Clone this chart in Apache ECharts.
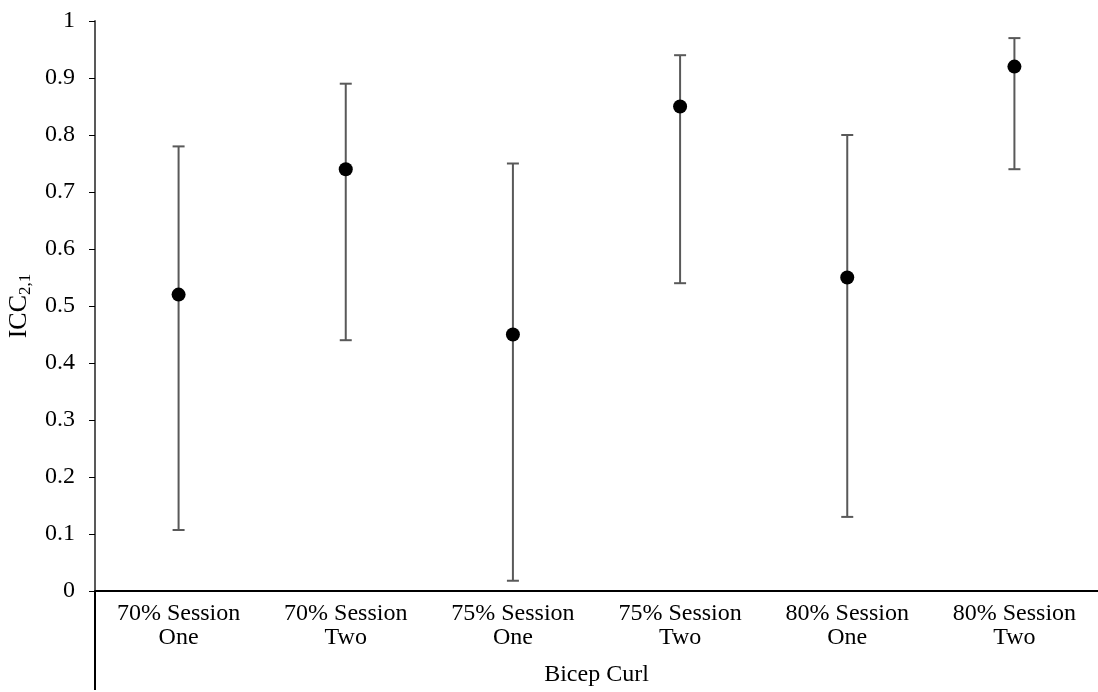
<!DOCTYPE html>
<html><head><meta charset="utf-8">
<script src="https://cdn.jsdelivr.net/npm/echarts@6/dist/echarts.min.js"></script>
<style>html,body{margin:0;padding:0;background:#fff}#c{width:1098px;height:692px}</style>
</head><body><div id="c"></div>
<script>
var categories = ['70% Session\nOne','70% Session\nTwo','75% Session\nOne','75% Session\nTwo','80% Session\nOne','80% Session\nTwo'];
var icc = [0.52, 0.74, 0.45, 0.85, 0.55, 0.92];
var lower = [0.107, 0.44, 0.018, 0.54, 0.13, 0.74];
var upper = [0.78, 0.89, 0.75, 0.94, 0.80, 0.97];
var yTicks = [0,0.1,0.2,0.3,0.4,0.5,0.6,0.7,0.8,0.9,1];

var font = 'Liberation Serif';
var chart = echarts.init(document.getElementById('c'));
var errData = categories.map(function(c,i){return [i, lower[i], upper[i]];});
var option = {
  animation:false,
  grid:{left:95, right:0, top:21, bottom:101, containLabel:false, outerBoundsMode:'none'},
  xAxis:{type:'category', data:categories,
    axisLine:{lineStyle:{color:'#000', width:2}},
    axisTick:{show:false},
    axisLabel:{fontFamily:font, fontSize:24, color:'#000', lineHeight:24, margin:11},
    name:'Bicep Curl', nameLocation:'middle', nameGap:72,
    nameTextStyle:{fontFamily:font, fontSize:24, color:'#000'}
  },
  yAxis:{type:'value', min:0, max:1, interval:0.1,
    axisLine:{show:true, lineStyle:{color:'#595959', width:2}},
    axisTick:{show:true, length:6, lineStyle:{color:'#000', width:1}},
    splitLine:{show:false},
    axisLabel:{fontFamily:font, fontSize:24, color:'#000', margin:20,
      formatter:function(v){ var t = yTicks.filter(function(x){return Math.abs(x-v)<1e-9;}); return t.length? String(+v.toFixed(1)) : ''; }},
    name:'{a|ICC}{b|2,1}', nameLocation:'middle', nameGap:57, nameRotate:90,
    nameTextStyle:{rich:{a:{fontFamily:font, fontSize:26, color:'#000'}, b:{fontFamily:font, fontSize:17, color:'#000', padding:[12,0,0,0]}}}
  },
  series:[
    {type:'custom', data:errData, z:2,
      renderItem:function(params, api){
        var x = api.value(0);
        var lo = api.coord([x, api.value(1)]);
        var hi = api.coord([x, api.value(2)]);
        var hw = 6;
        var st = {stroke:'#595959', lineWidth:2};
        return {type:'group', children:[
          {type:'line', shape:{x1:lo[0], y1:lo[1], x2:hi[0], y2:hi[1]}, style:st},
          {type:'line', shape:{x1:lo[0]-hw, y1:lo[1], x2:lo[0]+hw, y2:lo[1]}, style:st},
          {type:'line', shape:{x1:hi[0]-hw, y1:hi[1], x2:hi[0]+hw, y2:hi[1]}, style:st}
        ]};
      }},
    {type:'scatter', data:icc, symbol:'circle', symbolSize:14, z:3,
      itemStyle:{color:'#000', opacity:1}}
  ]
};
chart.setOption(option);
var p0 = chart.convertToPixel({gridIndex:0}, [0, 0]);
var gx = 95;
chart.setOption({graphic:[{type:'line', shape:{x1:gx, y1:p0[1], x2:gx, y2:690}, style:{stroke:'#000', lineWidth:2}, z:10}]});
</script></body></html>
